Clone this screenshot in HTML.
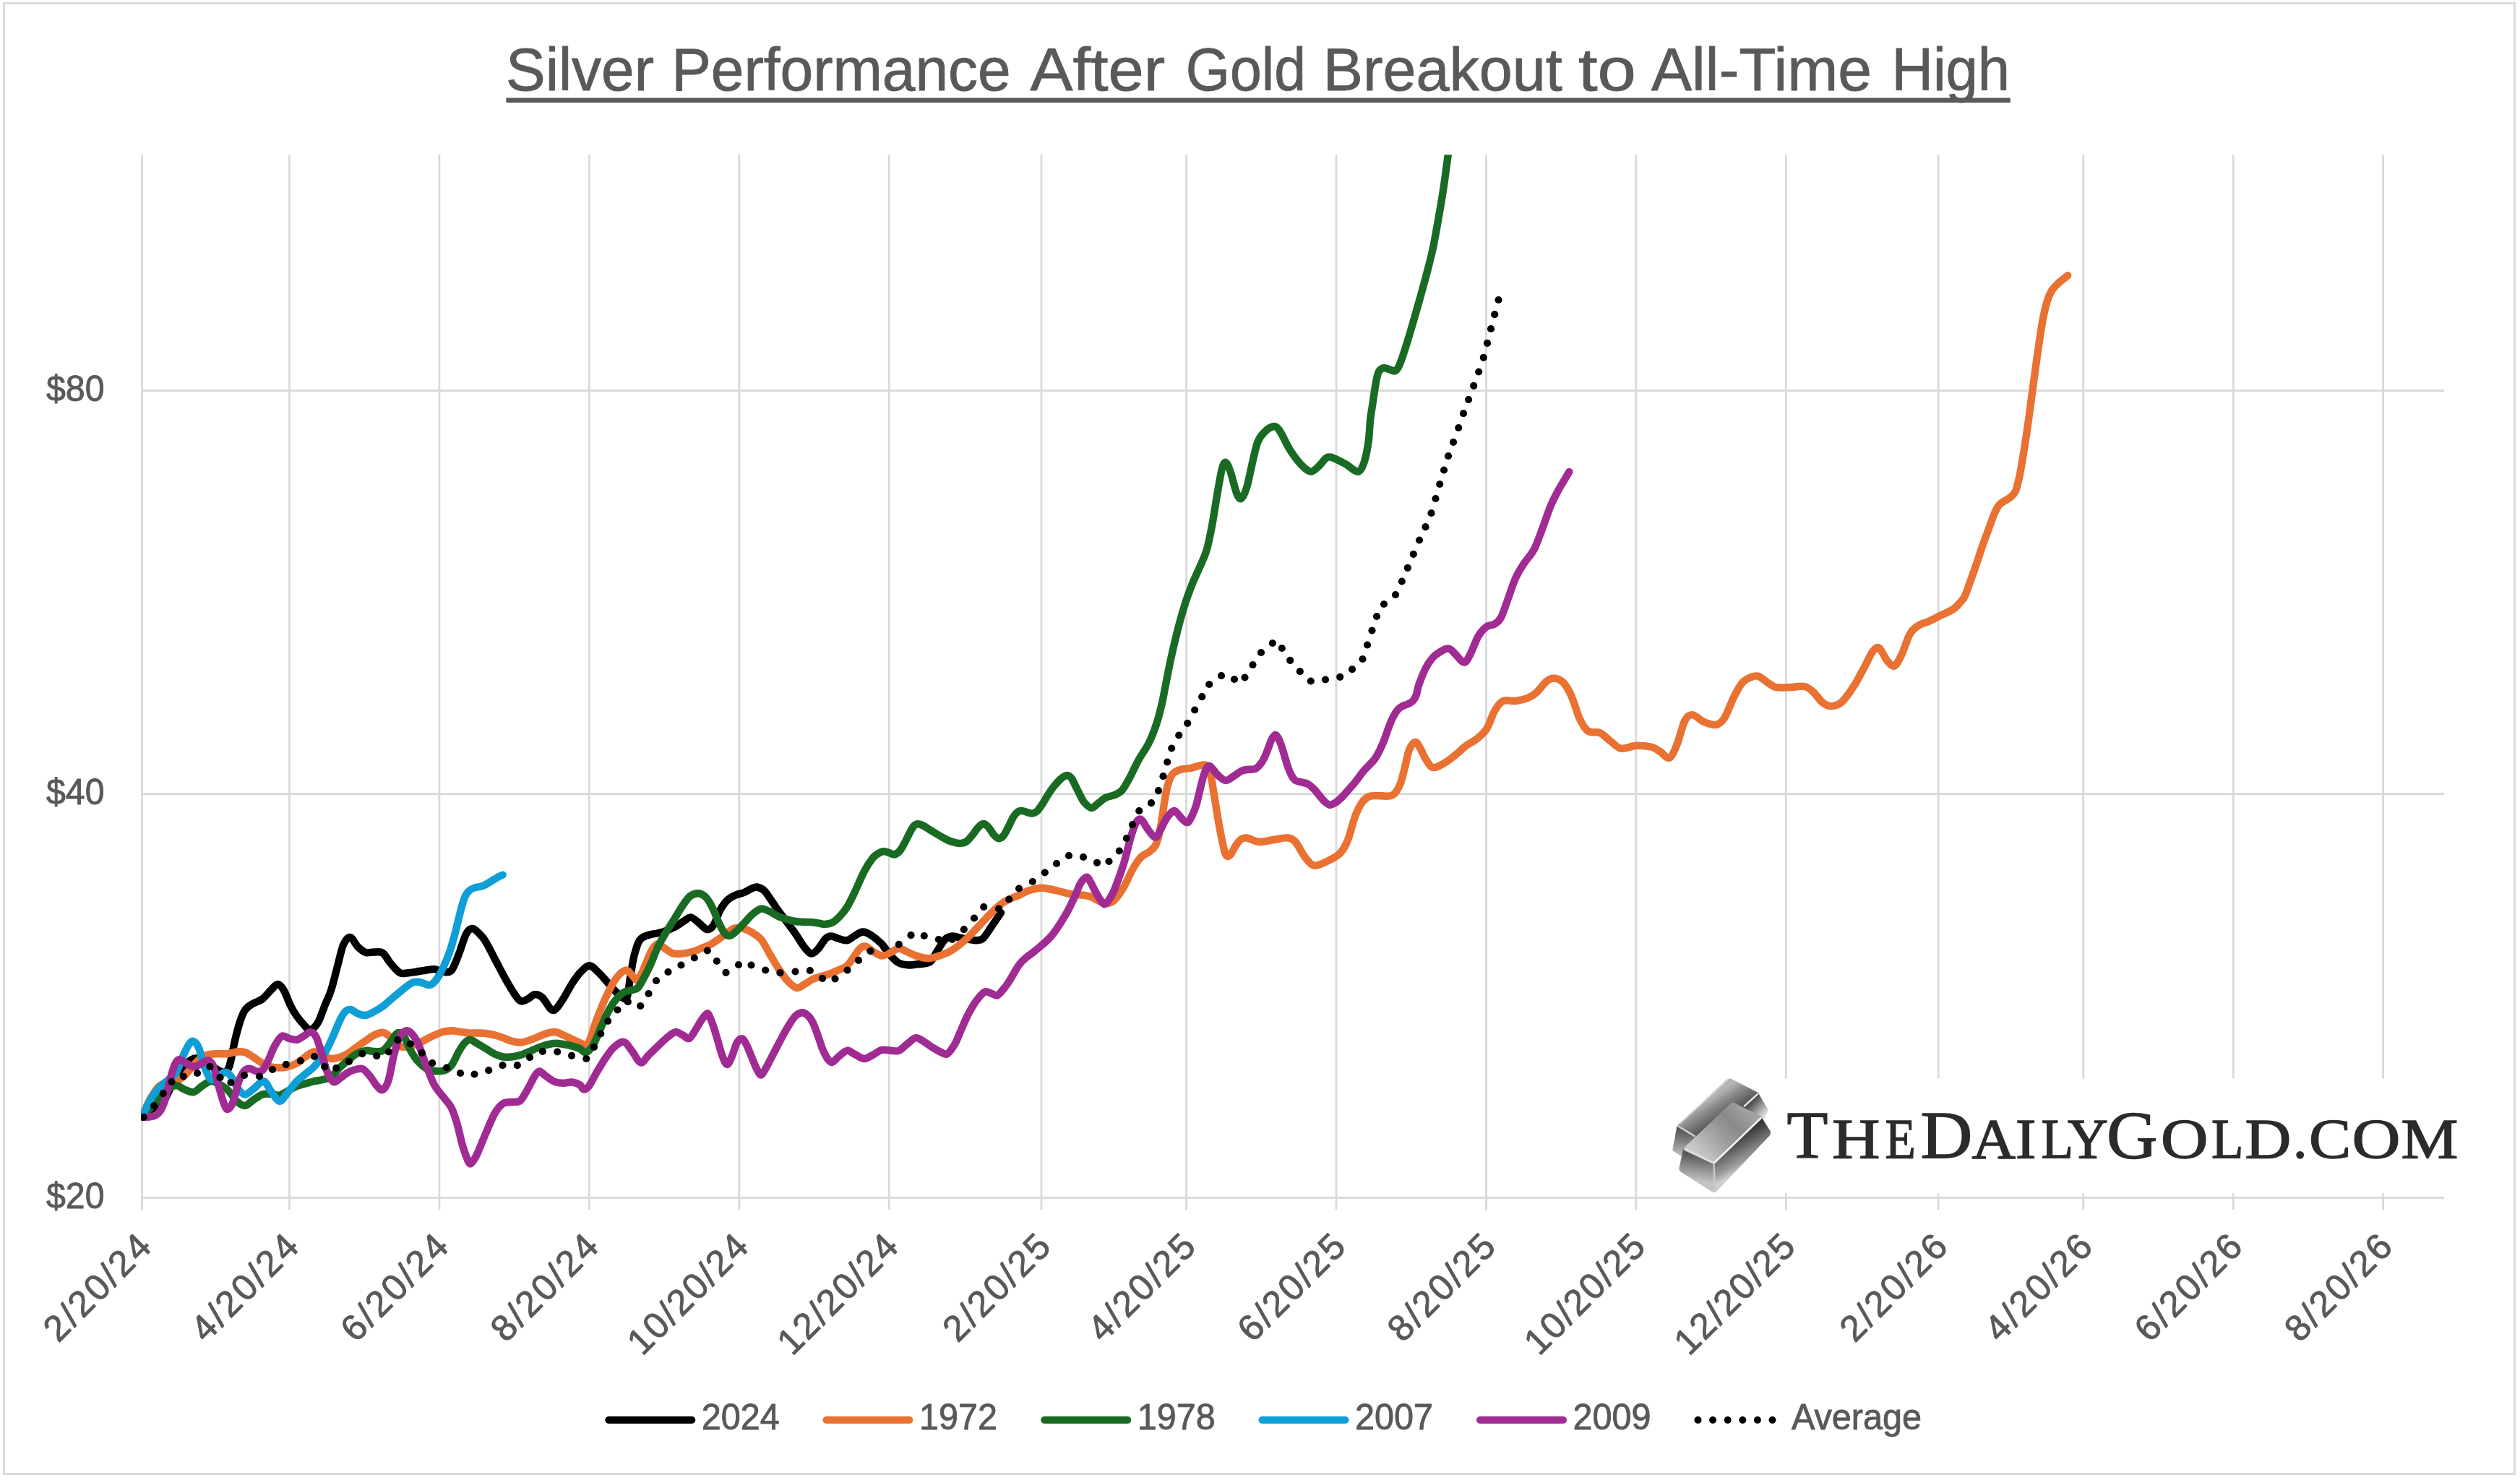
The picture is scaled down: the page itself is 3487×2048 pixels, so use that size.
<!DOCTYPE html>
<html lang="en"><head><meta charset="utf-8"><title>Silver Performance After Gold Breakout to All-Time High</title>
<style>html,body{margin:0;padding:0;background:#fff}svg{display:block}text{font-family:'Liberation Sans', Arial, sans-serif}.lg{font-family:"Liberation Serif","Times New Roman",serif}.t{stroke:#595959;stroke-width:0.9px;stroke-linejoin:round}</style></head><body>
<svg width="3487" height="2048" viewBox="0 0 3487 2048">
<defs>
<clipPath id="plot"><rect x="195.1" y="214.0" width="3260" height="1500"/></clipPath>
</defs>
<rect x="0" y="0" width="3487" height="2048" fill="#fff"/>
<rect x="5.5" y="4.5" width="3474" height="2035" fill="none" stroke="#D9D9D9" stroke-width="2.8"/>
<g stroke="#D9D9D9" stroke-width="2.8" fill="none"><line x1="196.5" y1="214.0" x2="196.5" y2="1674.3"/><line x1="400.5" y1="214.0" x2="400.5" y2="1674.3"/><line x1="607.9" y1="214.0" x2="607.9" y2="1674.3"/><line x1="815.4" y1="214.0" x2="815.4" y2="1674.3"/><line x1="1022.8" y1="214.0" x2="1022.8" y2="1674.3"/><line x1="1230.2" y1="214.0" x2="1230.2" y2="1674.3"/><line x1="1441.0" y1="214.0" x2="1441.0" y2="1674.3"/><line x1="1641.6" y1="214.0" x2="1641.6" y2="1674.3"/><line x1="1849.0" y1="214.0" x2="1849.0" y2="1674.3"/><line x1="2056.5" y1="214.0" x2="2056.5" y2="1674.3"/><line x1="2263.9" y1="214.0" x2="2263.9" y2="1674.3"/><line x1="2471.3" y1="214.0" x2="2471.3" y2="1674.3"/><line x1="2682.1" y1="214.0" x2="2682.1" y2="1674.3"/><line x1="2882.7" y1="214.0" x2="2882.7" y2="1674.3"/><line x1="3090.2" y1="214.0" x2="3090.2" y2="1674.3"/><line x1="3297.6" y1="214.0" x2="3297.6" y2="1674.3"/><line x1="195.1" y1="540.5" x2="3382.0" y2="540.5"/><line x1="195.1" y1="1098.7" x2="3382.0" y2="1098.7"/><line x1="195.1" y1="1657.3" x2="3382.0" y2="1657.3"/></g>
<text class="t" font-size="84" fill="#595959"><tspan x="700.01" y="125.4" textLength="204.99" lengthAdjust="spacingAndGlyphs">Silver</tspan> <tspan x="929.15" y="125.4" textLength="469.48" lengthAdjust="spacingAndGlyphs">Performance</tspan> <tspan x="1425.59" y="125.4" textLength="186.59" lengthAdjust="spacingAndGlyphs">After</tspan> <tspan x="1640.74" y="125.4" textLength="166.14" lengthAdjust="spacingAndGlyphs">Gold</tspan> <tspan x="1830.80" y="125.4" textLength="331.00" lengthAdjust="spacingAndGlyphs">Breakout</tspan> <tspan x="2184.01" y="125.4" textLength="79.93" lengthAdjust="spacingAndGlyphs">to</tspan> <tspan x="2285.00" y="125.4" textLength="304.97" lengthAdjust="spacingAndGlyphs">All-Time</tspan> <tspan x="2617.62" y="125.4" textLength="163.32" lengthAdjust="spacingAndGlyphs">High</tspan></text>
<rect x="700.3" y="135.4" width="2081.5" height="6.6" fill="#595959"/>
<text class="t" x="64" y="555.0" font-size="50.5" fill="#595959" textLength="80.5" lengthAdjust="spacingAndGlyphs">$80</text>
<text class="t" x="64" y="1113.2" font-size="50.5" fill="#595959" textLength="80.5" lengthAdjust="spacingAndGlyphs">$40</text>
<text class="t" x="64" y="1671.8" font-size="50.5" fill="#595959" textLength="80.5" lengthAdjust="spacingAndGlyphs">$20</text>
<text class="t" transform="translate(212.0 1728) rotate(-45)" text-anchor="end" font-size="50.5" fill="#595959" textLength="185.5" lengthAdjust="spacing">2/20/24</text>
<text class="t" transform="translate(416.0 1728) rotate(-45)" text-anchor="end" font-size="50.5" fill="#595959" textLength="185.5" lengthAdjust="spacing">4/20/24</text>
<text class="t" transform="translate(623.4 1728) rotate(-45)" text-anchor="end" font-size="50.5" fill="#595959" textLength="185.5" lengthAdjust="spacing">6/20/24</text>
<text class="t" transform="translate(830.9 1728) rotate(-45)" text-anchor="end" font-size="50.5" fill="#595959" textLength="185.5" lengthAdjust="spacing">8/20/24</text>
<text class="t" transform="translate(1038.3 1728) rotate(-45)" text-anchor="end" font-size="50.5" fill="#595959" textLength="211.5" lengthAdjust="spacing">10/20/24</text>
<text class="t" transform="translate(1245.7 1728) rotate(-45)" text-anchor="end" font-size="50.5" fill="#595959" textLength="211.5" lengthAdjust="spacing">12/20/24</text>
<text class="t" transform="translate(1456.5 1728) rotate(-45)" text-anchor="end" font-size="50.5" fill="#595959" textLength="185.5" lengthAdjust="spacing">2/20/25</text>
<text class="t" transform="translate(1657.1 1728) rotate(-45)" text-anchor="end" font-size="50.5" fill="#595959" textLength="185.5" lengthAdjust="spacing">4/20/25</text>
<text class="t" transform="translate(1864.5 1728) rotate(-45)" text-anchor="end" font-size="50.5" fill="#595959" textLength="185.5" lengthAdjust="spacing">6/20/25</text>
<text class="t" transform="translate(2072.0 1728) rotate(-45)" text-anchor="end" font-size="50.5" fill="#595959" textLength="185.5" lengthAdjust="spacing">8/20/25</text>
<text class="t" transform="translate(2279.4 1728) rotate(-45)" text-anchor="end" font-size="50.5" fill="#595959" textLength="211.5" lengthAdjust="spacing">10/20/25</text>
<text class="t" transform="translate(2486.8 1728) rotate(-45)" text-anchor="end" font-size="50.5" fill="#595959" textLength="211.5" lengthAdjust="spacing">12/20/25</text>
<text class="t" transform="translate(2697.6 1728) rotate(-45)" text-anchor="end" font-size="50.5" fill="#595959" textLength="185.5" lengthAdjust="spacing">2/20/26</text>
<text class="t" transform="translate(2898.2 1728) rotate(-45)" text-anchor="end" font-size="50.5" fill="#595959" textLength="185.5" lengthAdjust="spacing">4/20/26</text>
<text class="t" transform="translate(3105.7 1728) rotate(-45)" text-anchor="end" font-size="50.5" fill="#595959" textLength="185.5" lengthAdjust="spacing">6/20/26</text>
<text class="t" transform="translate(3313.1 1728) rotate(-45)" text-anchor="end" font-size="50.5" fill="#595959" textLength="185.5" lengthAdjust="spacing">8/20/26</text>
<g clip-path="url(#plot)" fill="none" stroke-width="10.4" stroke-linecap="round" stroke-linejoin="round">
<path stroke="#000000" d="M196.5 1545.5C204.4 1542.0 212.3 1544.2 220.2 1535.0C228.2 1525.8 236.1 1501.6 244.0 1490.0C252.0 1478.3 260.0 1467.5 268.0 1465.0C275.9 1462.5 283.8 1471.5 291.8 1475.0C297.8 1477.7 303.9 1483.8 310.0 1483.8C312.5 1483.8 315.0 1482.3 317.5 1475.0C320.0 1467.7 322.5 1450.4 325.0 1440.0C327.5 1429.6 330.0 1420.0 332.5 1412.5C334.8 1405.8 337.0 1400.6 339.2 1397.5C342.8 1392.6 346.4 1391.0 350.0 1388.8C354.3 1386.0 358.7 1385.8 363.0 1382.5C367.0 1379.5 371.0 1373.8 375.0 1370.0C378.2 1367.0 381.3 1362.0 384.5 1362.0C387.2 1362.0 389.8 1365.5 392.5 1370.0C395.8 1375.6 399.2 1385.9 402.5 1392.5C405.2 1398.0 408.0 1402.3 410.8 1406.2C413.8 1410.7 416.9 1414.3 420.0 1417.5C422.9 1420.5 425.8 1425.4 428.8 1425.0C432.5 1424.5 436.2 1421.2 440.0 1415.0C443.3 1409.5 446.7 1398.2 450.0 1390.0C452.8 1383.2 455.5 1378.6 458.2 1370.0C461.3 1360.3 464.4 1346.5 467.5 1335.0C470.0 1325.7 472.5 1313.1 475.0 1307.5C478.2 1300.4 481.3 1296.6 484.5 1297.0C488.0 1297.4 491.5 1306.6 495.0 1310.0C498.7 1313.6 502.3 1316.8 506.0 1318.0C509.8 1319.3 513.7 1317.4 517.5 1317.5C521.6 1317.6 525.7 1316.0 529.8 1318.8C533.2 1321.0 536.6 1328.5 540.0 1332.5C544.5 1337.7 549.0 1343.8 553.5 1346.2C557.3 1348.4 561.2 1346.5 565.0 1346.2C569.1 1345.9 573.2 1345.1 577.2 1344.5C581.5 1343.9 585.8 1343.1 590.0 1342.5C593.7 1342.0 597.3 1340.9 601.0 1341.2C605.7 1341.7 610.3 1344.8 615.0 1345.0C618.3 1345.2 621.7 1346.7 625.0 1342.5C628.3 1338.3 631.7 1328.3 635.0 1320.0C638.3 1311.7 641.7 1298.7 645.0 1292.5C647.9 1287.1 650.8 1284.8 653.8 1285.0C657.5 1285.2 661.2 1290.0 665.0 1293.8C667.5 1296.2 670.0 1299.5 672.5 1303.8C676.7 1310.8 680.8 1319.6 685.0 1327.5C688.8 1334.6 692.5 1342.0 696.2 1348.8C700.8 1357.0 705.4 1365.5 710.0 1372.5C713.3 1377.6 716.7 1383.3 720.0 1385.0C723.3 1386.7 726.7 1384.0 730.0 1382.5C733.3 1381.0 736.7 1376.7 740.0 1376.2C743.3 1375.8 746.7 1377.1 750.0 1380.0C755.0 1384.3 760.0 1397.1 765.0 1398.0C769.2 1398.8 773.3 1390.8 777.5 1385.0C782.2 1378.5 786.8 1368.5 791.5 1361.2C795.2 1355.6 798.8 1350.1 802.5 1346.2C806.8 1341.8 811.0 1336.5 815.2 1336.2C819.3 1336.0 823.4 1341.3 827.5 1345.0C831.3 1348.4 835.2 1353.2 839.0 1357.5C842.7 1361.6 846.3 1366.3 850.0 1370.0C854.2 1374.2 858.3 1379.2 862.5 1381.2C864.3 1382.1 866.2 1384.5 868.0 1378.8C869.5 1374.1 871.0 1358.9 872.5 1350.0C874.2 1340.1 875.8 1329.0 877.5 1322.5C880.0 1312.8 882.5 1304.8 885.0 1301.2C889.2 1295.3 893.3 1295.4 897.5 1293.8C901.8 1292.1 906.2 1292.3 910.5 1291.2C914.5 1290.2 918.5 1289.0 922.5 1287.5C926.4 1286.1 930.3 1284.7 934.2 1282.5C938.7 1280.1 943.1 1276.4 947.5 1273.8C950.4 1272.0 953.3 1269.0 956.2 1269.5C960.0 1270.2 963.8 1274.7 967.5 1277.5C971.2 1280.3 975.0 1285.8 978.8 1286.2C981.7 1286.6 984.6 1284.4 987.5 1280.0C990.4 1275.6 993.3 1265.4 996.2 1260.0C999.4 1254.1 1002.6 1249.4 1005.8 1246.2C1009.7 1242.3 1013.6 1240.6 1017.5 1238.8C1021.5 1236.9 1025.5 1236.6 1029.5 1235.0C1033.0 1233.6 1036.5 1231.0 1040.0 1229.5C1042.5 1228.5 1045.0 1227.1 1047.5 1227.5C1050.8 1228.1 1054.2 1229.4 1057.5 1232.5C1060.8 1235.6 1064.2 1241.5 1067.5 1246.2C1070.7 1250.7 1073.8 1255.6 1077.0 1260.0C1081.3 1266.0 1085.7 1271.6 1090.0 1277.5C1093.7 1282.5 1097.3 1287.2 1101.0 1292.5C1104.8 1298.0 1108.7 1305.2 1112.5 1310.0C1115.8 1314.2 1119.2 1319.1 1122.5 1319.5C1125.8 1319.9 1129.2 1316.0 1132.5 1312.5C1135.8 1309.0 1139.2 1302.0 1142.5 1298.8C1145.0 1296.3 1147.5 1295.5 1150.0 1295.5C1153.3 1295.5 1156.7 1297.9 1160.0 1298.8C1164.1 1299.8 1168.2 1301.9 1172.2 1301.2C1175.7 1300.7 1179.1 1296.9 1182.5 1295.0C1186.2 1293.0 1190.0 1289.7 1193.8 1289.5C1197.5 1289.3 1201.2 1291.4 1205.0 1293.8C1210.0 1296.9 1215.0 1301.0 1220.0 1306.2C1224.2 1310.6 1228.3 1317.9 1232.5 1322.5C1236.2 1326.6 1240.0 1330.5 1243.8 1332.5C1248.3 1334.9 1252.9 1335.1 1257.5 1335.5C1260.8 1335.8 1264.2 1335.1 1267.5 1334.5C1274.2 1333.4 1280.8 1334.8 1287.5 1330.5C1290.8 1328.3 1294.2 1320.1 1297.5 1315.0C1300.8 1309.9 1304.2 1303.2 1307.5 1300.0C1310.8 1296.8 1314.2 1295.9 1317.5 1295.5C1320.8 1295.1 1324.2 1296.9 1327.5 1297.5C1331.3 1298.2 1335.2 1298.9 1339.0 1299.5C1342.7 1300.1 1346.3 1301.4 1350.0 1301.2C1353.3 1301.1 1356.7 1301.5 1360.0 1298.8C1363.3 1296.0 1366.7 1289.8 1370.0 1285.0C1375.0 1277.8 1380.0 1270.3 1385.0 1263.0"/>
<path stroke="#E97132" d="M196.5 1545.5C199.3 1539.0 202.2 1531.8 205.0 1526.0C207.5 1520.9 210.0 1516.8 212.5 1513.0C215.1 1509.1 217.7 1505.0 220.2 1503.0C224.3 1499.8 228.4 1498.8 232.5 1497.5C236.3 1496.3 240.2 1497.0 244.0 1495.5C247.7 1494.1 251.3 1492.1 255.0 1488.8C259.3 1484.8 263.7 1478.3 268.0 1473.8C272.0 1469.5 276.0 1465.0 280.0 1462.5C283.9 1460.0 287.8 1459.5 291.8 1458.8C295.3 1458.1 298.9 1458.4 302.5 1458.2C306.8 1458.1 311.2 1458.5 315.5 1458.0C319.5 1457.6 323.5 1455.8 327.5 1455.5C331.4 1455.2 335.3 1455.0 339.2 1456.2C342.8 1457.4 346.4 1460.2 350.0 1462.5C354.3 1465.2 358.7 1468.9 363.0 1471.2C367.0 1473.5 371.0 1475.2 375.0 1476.2C379.0 1477.3 383.0 1477.5 387.0 1477.5C390.5 1477.5 394.0 1477.2 397.5 1476.2C401.9 1475.1 406.3 1473.7 410.8 1471.2C414.7 1469.1 418.6 1465.1 422.5 1462.5C426.5 1459.8 430.5 1455.9 434.5 1455.5C438.0 1455.1 441.5 1458.6 445.0 1460.0C449.4 1461.8 453.8 1464.5 458.2 1465.0C462.2 1465.5 466.1 1464.2 470.0 1463.0C474.0 1461.7 478.0 1459.9 482.0 1457.5C485.9 1455.2 489.8 1451.6 493.8 1448.8C497.8 1445.8 501.9 1442.8 506.0 1440.0C509.8 1437.4 513.7 1434.3 517.5 1432.5C521.6 1430.6 525.7 1428.3 529.8 1428.8C533.2 1429.1 536.6 1432.0 540.0 1435.0C543.3 1437.9 546.7 1444.0 550.0 1446.2C553.3 1448.5 556.7 1449.0 560.0 1448.8C565.8 1448.4 571.5 1446.6 577.2 1444.5C581.5 1443.0 585.8 1440.1 590.0 1438.0C593.7 1436.1 597.3 1434.1 601.0 1432.5C604.8 1430.8 608.7 1429.0 612.5 1428.0C616.7 1426.9 620.8 1426.2 625.0 1426.2C629.2 1426.2 633.3 1427.4 637.5 1428.0C641.2 1428.5 645.0 1429.2 648.8 1429.5C652.5 1429.8 656.2 1429.4 660.0 1429.5C664.2 1429.6 668.3 1429.5 672.5 1430.0C676.7 1430.5 680.8 1431.4 685.0 1432.5C688.8 1433.5 692.5 1434.9 696.2 1436.2C700.0 1437.6 703.8 1439.5 707.5 1440.5C711.7 1441.6 715.8 1442.7 720.0 1442.5C724.2 1442.3 728.3 1440.8 732.5 1439.5C736.3 1438.3 740.2 1436.5 744.0 1435.0C747.7 1433.5 751.3 1431.6 755.0 1430.5C759.2 1429.2 763.5 1427.7 767.8 1428.0C771.8 1428.3 775.9 1430.8 780.0 1432.5C783.8 1434.1 787.7 1436.2 791.5 1438.0C795.2 1439.7 798.8 1441.4 802.5 1443.0C804.6 1443.9 806.7 1445.8 808.8 1445.5C810.9 1445.2 813.1 1445.7 815.2 1441.2C818.5 1434.7 821.8 1421.1 825.0 1412.5C829.7 1400.2 834.3 1388.7 839.0 1378.8C843.5 1369.1 848.0 1359.7 852.5 1353.8C857.1 1347.7 861.7 1343.3 866.2 1342.5C869.2 1342.0 872.1 1347.3 875.0 1350.0C877.1 1351.9 879.2 1356.7 881.2 1356.2C883.3 1355.8 885.4 1351.5 887.5 1347.5C890.0 1342.7 892.5 1335.6 895.0 1330.0C897.5 1324.4 900.0 1317.7 902.5 1313.8C905.0 1309.8 907.5 1306.4 910.0 1306.2C913.3 1306.0 916.7 1310.4 920.0 1312.5C923.3 1314.6 926.7 1317.5 930.0 1318.8C933.3 1320.0 936.7 1320.2 940.0 1320.0C946.0 1319.6 952.0 1318.5 958.0 1317.0C962.0 1316.0 966.0 1314.1 970.0 1312.5C974.0 1310.9 978.0 1309.6 982.0 1307.5C985.9 1305.4 989.8 1302.7 993.8 1300.0C997.8 1297.3 1001.8 1294.1 1005.8 1291.2C1008.8 1289.1 1011.9 1286.4 1015.0 1285.0C1017.5 1283.9 1020.0 1283.8 1022.5 1283.8C1024.8 1283.8 1027.2 1284.2 1029.5 1285.0C1033.0 1286.2 1036.5 1287.8 1040.0 1290.0C1044.4 1292.8 1048.8 1294.7 1053.2 1300.0C1057.2 1304.7 1061.1 1313.4 1065.0 1320.0C1069.0 1326.7 1073.0 1334.0 1077.0 1340.0C1081.3 1346.5 1085.7 1352.9 1090.0 1357.5C1094.2 1361.9 1098.3 1366.1 1102.5 1367.0C1105.8 1367.7 1109.2 1364.3 1112.5 1362.5C1116.6 1360.3 1120.7 1356.7 1124.8 1355.0C1132.7 1351.7 1140.6 1350.3 1148.5 1347.5C1152.3 1346.1 1156.2 1344.3 1160.0 1342.5C1164.1 1340.6 1168.2 1339.9 1172.2 1336.2C1175.7 1333.2 1179.1 1327.1 1182.5 1322.5C1185.0 1319.2 1187.5 1314.7 1190.0 1312.5C1192.5 1310.3 1195.0 1309.0 1197.5 1309.5C1200.8 1310.2 1204.2 1314.3 1207.5 1316.2C1211.7 1318.7 1215.8 1322.2 1220.0 1322.5C1224.2 1322.8 1228.3 1319.8 1232.5 1318.0C1236.2 1316.4 1240.0 1312.7 1243.8 1312.5C1247.5 1312.3 1251.2 1315.4 1255.0 1317.0C1259.2 1318.8 1263.3 1321.2 1267.5 1322.5C1273.3 1324.3 1279.2 1326.2 1285.0 1326.2C1290.0 1326.2 1295.0 1324.2 1300.0 1322.5C1305.0 1320.8 1310.0 1319.0 1315.0 1316.2C1319.2 1314.0 1323.3 1310.8 1327.5 1307.5C1331.3 1304.5 1335.2 1301.1 1339.0 1297.5C1342.7 1294.0 1346.3 1290.1 1350.0 1286.2C1354.2 1281.8 1358.5 1277.0 1362.8 1272.5C1366.8 1268.2 1370.9 1263.9 1375.0 1260.0C1378.8 1256.4 1382.7 1252.8 1386.5 1250.0C1390.2 1247.4 1393.8 1245.5 1397.5 1243.8C1401.8 1241.7 1406.0 1240.6 1410.2 1238.8C1413.5 1237.3 1416.8 1235.1 1420.0 1233.8C1423.3 1232.4 1426.7 1231.3 1430.0 1230.5C1433.8 1229.6 1437.7 1228.5 1441.5 1228.8C1448.5 1229.2 1455.5 1231.0 1462.5 1232.5C1469.2 1233.9 1475.8 1236.4 1482.5 1237.5C1488.3 1238.5 1494.2 1238.0 1500.0 1238.8C1503.3 1239.2 1506.7 1239.9 1510.0 1241.2C1515.0 1243.2 1520.0 1246.9 1525.0 1248.8C1527.9 1249.8 1530.8 1250.6 1533.8 1250.0C1536.7 1249.4 1539.6 1248.1 1542.5 1245.0C1546.7 1240.6 1550.8 1234.6 1555.0 1227.5C1559.2 1220.4 1563.3 1209.7 1567.5 1202.5C1571.2 1196.0 1575.0 1190.2 1578.8 1186.2C1582.5 1182.3 1586.2 1181.8 1590.0 1178.8C1592.9 1176.4 1595.8 1175.0 1598.8 1170.0C1600.4 1167.1 1602.1 1161.7 1603.8 1155.0C1605.0 1150.0 1606.2 1142.5 1607.5 1135.0C1608.8 1127.5 1610.0 1117.5 1611.2 1110.0C1612.5 1102.5 1613.8 1095.0 1615.0 1090.0C1616.7 1083.3 1618.3 1078.5 1620.0 1075.0C1621.7 1071.5 1623.3 1069.9 1625.0 1068.8C1628.3 1066.4 1631.7 1065.4 1635.0 1064.5C1639.2 1063.4 1643.3 1063.9 1647.5 1063.0C1652.5 1062.0 1657.5 1059.4 1662.5 1058.8C1665.4 1058.4 1668.3 1057.4 1671.2 1060.0C1672.5 1061.1 1673.8 1064.3 1675.0 1070.0C1676.7 1077.6 1678.3 1090.0 1680.0 1100.0C1682.5 1115.0 1685.0 1131.7 1687.5 1145.0C1690.0 1158.3 1692.5 1171.5 1695.0 1180.0C1696.4 1184.8 1697.8 1184.8 1699.2 1185.0C1700.8 1185.2 1702.2 1183.3 1703.8 1181.2C1705.8 1178.3 1707.9 1173.0 1710.0 1170.0C1712.5 1166.4 1715.0 1163.0 1717.5 1161.2C1720.0 1159.5 1722.5 1159.1 1725.0 1159.5C1730.8 1160.4 1736.7 1164.6 1742.5 1165.0C1749.2 1165.4 1755.8 1162.9 1762.5 1162.0C1769.2 1161.1 1775.8 1158.8 1782.5 1159.5C1785.8 1159.8 1789.2 1161.2 1792.5 1165.0C1796.7 1169.7 1800.8 1179.2 1805.0 1185.0C1808.3 1189.6 1811.7 1193.9 1815.0 1196.2C1817.5 1198.0 1820.0 1198.1 1822.5 1197.5C1828.3 1196.0 1834.2 1193.1 1840.0 1190.0C1845.0 1187.3 1850.0 1185.5 1855.0 1180.0C1858.3 1176.3 1861.7 1170.8 1865.0 1162.5C1868.3 1154.2 1871.7 1138.8 1875.0 1130.0C1878.3 1121.2 1881.7 1114.7 1885.0 1110.0C1888.3 1105.3 1891.7 1103.2 1895.0 1102.0C1900.0 1100.2 1905.0 1101.6 1910.0 1101.2C1915.8 1100.9 1921.7 1103.4 1927.5 1100.0C1930.8 1098.0 1934.2 1092.7 1937.5 1085.0C1939.6 1080.2 1941.7 1070.4 1943.8 1062.5C1945.8 1054.6 1947.9 1042.4 1950.0 1037.5C1952.9 1030.6 1955.8 1027.5 1958.8 1027.0C1960.8 1026.7 1962.9 1031.5 1965.0 1035.0C1967.5 1039.2 1970.0 1046.1 1972.5 1050.0C1975.8 1055.1 1979.2 1061.4 1982.5 1062.0C1988.3 1063.1 1994.2 1058.3 2000.0 1055.0C2005.0 1052.2 2010.0 1047.8 2015.0 1043.8C2019.5 1040.1 2024.0 1035.4 2028.6 1032.0C2033.3 1028.4 2038.1 1026.8 2042.9 1022.9C2047.6 1019.0 2052.4 1016.0 2057.1 1008.6C2061.0 1002.6 2064.8 989.3 2068.6 982.9C2072.4 976.4 2076.2 971.7 2080.0 970.0C2085.7 967.4 2091.4 970.7 2097.1 970.0C2102.9 969.3 2108.6 968.0 2114.3 965.7C2118.1 964.2 2121.9 962.0 2125.7 958.6C2130.5 954.3 2135.2 946.8 2140.0 942.9C2143.3 940.1 2146.7 938.4 2150.0 938.6C2154.3 938.8 2158.6 940.0 2162.9 944.3C2166.7 948.1 2170.5 954.5 2174.3 962.9C2178.1 971.2 2181.9 986.2 2185.7 994.3C2189.5 1002.4 2193.3 1008.8 2197.1 1011.4C2202.9 1015.4 2208.6 1011.7 2214.3 1014.3C2219.0 1016.5 2223.8 1022.1 2228.6 1025.7C2233.3 1029.3 2238.1 1034.8 2242.9 1035.7C2249.5 1036.9 2256.2 1032.3 2262.9 1032.0C2270.5 1031.6 2278.1 1031.9 2285.7 1033.7C2289.5 1034.6 2293.3 1037.7 2297.1 1040.0C2301.4 1042.6 2305.7 1050.2 2310.0 1048.6C2313.3 1047.3 2316.7 1039.4 2320.0 1031.4C2323.8 1022.3 2327.6 1004.7 2331.4 997.1C2334.8 990.6 2338.1 989.0 2341.4 989.1C2346.7 989.4 2351.9 996.4 2357.1 998.6C2362.9 1001.0 2368.6 1003.7 2374.3 1002.9C2378.1 1002.3 2381.9 1000.2 2385.7 994.3C2390.5 986.9 2395.2 972.1 2400.0 962.9C2403.8 955.4 2407.6 948.6 2411.4 944.3C2415.2 940.0 2419.0 938.7 2422.9 937.1C2426.2 935.8 2429.5 934.7 2432.9 935.7C2437.1 937.1 2441.4 941.6 2445.7 944.3C2449.5 946.7 2453.3 950.1 2457.1 950.9C2464.8 952.3 2472.4 951.0 2480.0 950.9C2485.7 950.7 2491.4 948.7 2497.1 950.0C2501.0 950.8 2504.8 953.8 2508.6 957.1C2513.3 961.4 2518.1 969.2 2522.9 972.9C2526.7 975.8 2530.5 977.4 2534.3 977.1C2539.0 976.9 2543.8 975.8 2548.6 971.4C2554.3 966.2 2560.0 957.4 2565.7 948.6C2570.5 941.2 2575.2 931.6 2580.0 922.9C2583.8 915.9 2587.6 906.4 2591.4 901.4C2594.3 897.7 2597.1 894.7 2600.0 896.6C2603.8 899.0 2607.6 909.9 2611.4 914.3C2614.8 918.2 2618.1 922.9 2621.4 921.4C2624.8 920.0 2628.1 912.6 2631.4 905.7C2635.2 897.8 2639.0 883.8 2642.9 877.1C2646.7 870.5 2650.5 868.3 2654.3 865.7C2659.0 862.5 2663.8 862.2 2668.6 860.0C2674.3 857.4 2680.0 854.3 2685.7 851.4C2691.4 848.6 2697.1 846.9 2702.9 842.9C2706.7 840.2 2710.5 835.7 2714.3 831.4C2715.8 829.8 2717.3 828.3 2718.8 825.0C2721.2 819.5 2723.8 811.9 2726.2 805.0C2729.2 796.9 2732.1 788.5 2735.0 780.0C2737.9 771.5 2740.8 762.1 2743.8 753.8C2746.7 745.4 2749.6 737.9 2752.5 730.0C2755.0 723.3 2757.5 715.7 2760.0 710.0C2762.1 705.3 2764.2 701.2 2766.2 698.8C2769.2 695.3 2772.1 694.5 2775.0 692.5C2777.5 690.8 2780.0 689.8 2782.5 687.5C2784.6 685.6 2786.7 684.2 2788.8 680.0C2790.0 677.5 2791.2 672.5 2792.5 667.5C2793.8 662.5 2795.0 657.2 2796.2 650.0C2799.2 633.1 2802.1 614.7 2805.0 595.0C2807.5 578.1 2810.0 558.3 2812.5 540.0C2815.0 521.7 2817.5 502.3 2820.0 485.0C2822.1 470.6 2824.2 456.2 2826.2 445.0C2828.3 433.8 2830.4 424.6 2832.5 417.5C2834.6 410.4 2836.7 406.0 2838.8 402.5C2841.7 397.6 2844.6 395.4 2847.5 392.5C2850.0 390.0 2852.5 388.3 2855.0 386.2C2857.1 384.5 2859.2 382.9 2861.2 381.2"/>
<path stroke="#196B24" d="M196.5 1545.5C200.6 1541.2 204.7 1536.7 208.8 1532.5C212.6 1528.6 216.4 1525.3 220.2 1521.2C224.3 1517.0 228.4 1510.8 232.5 1507.5C236.3 1504.4 240.2 1502.0 244.0 1502.0C247.7 1502.0 251.3 1506.1 255.0 1507.5C259.3 1509.2 263.7 1512.1 268.0 1511.2C272.0 1510.5 276.0 1505.0 280.0 1502.5C283.9 1500.0 287.8 1496.7 291.8 1496.2C295.3 1495.9 298.9 1498.1 302.5 1500.0C306.8 1502.3 311.2 1504.6 315.5 1508.8C319.5 1512.5 323.5 1520.2 327.5 1523.8C331.4 1527.3 335.3 1530.2 339.2 1530.0C342.8 1529.8 346.4 1524.8 350.0 1522.5C354.3 1519.7 358.7 1516.0 363.0 1514.5C367.0 1513.1 371.0 1513.6 375.0 1513.8C379.0 1513.9 383.0 1516.2 387.0 1515.5C390.5 1514.9 394.0 1511.8 397.5 1510.0C401.9 1507.7 406.3 1504.9 410.8 1503.0C414.7 1501.4 418.6 1500.6 422.5 1499.5C426.5 1498.4 430.5 1497.2 434.5 1496.2C438.8 1495.3 443.2 1494.9 447.5 1493.8C451.1 1492.8 454.7 1492.6 458.2 1490.0C462.2 1487.2 466.1 1481.3 470.0 1477.5C474.0 1473.6 478.0 1470.3 482.0 1467.0C485.9 1463.8 489.8 1460.2 493.8 1458.0C497.8 1455.7 501.9 1454.3 506.0 1453.8C509.8 1453.3 513.7 1455.0 517.5 1455.0C521.6 1455.0 525.7 1456.0 529.8 1453.8C533.2 1451.9 536.6 1446.6 540.0 1442.5C543.3 1438.5 546.7 1431.1 550.0 1429.5C552.9 1428.1 555.8 1429.9 558.8 1433.8C561.7 1437.6 564.6 1447.2 567.5 1452.5C570.8 1458.4 574.0 1463.7 577.2 1467.5C581.5 1472.5 585.8 1476.2 590.0 1478.8C593.7 1481.0 597.3 1481.6 601.0 1482.0C605.7 1482.5 610.3 1482.9 615.0 1481.2C618.3 1480.1 621.7 1478.1 625.0 1473.8C628.3 1469.4 631.7 1460.7 635.0 1455.0C637.5 1450.7 640.0 1446.5 642.5 1443.8C645.0 1441.0 647.5 1438.8 650.0 1438.8C653.3 1438.8 656.7 1441.9 660.0 1443.8C664.2 1446.1 668.3 1448.8 672.5 1451.2C676.7 1453.8 680.8 1456.8 685.0 1458.8C688.8 1460.5 692.5 1461.9 696.2 1462.5C700.0 1463.1 703.8 1462.9 707.5 1462.5C711.7 1462.1 715.8 1461.2 720.0 1460.0C724.2 1458.8 728.3 1456.7 732.5 1455.0C736.3 1453.4 740.2 1451.5 744.0 1450.0C747.7 1448.6 751.3 1447.2 755.0 1446.2C759.2 1445.1 763.5 1444.0 767.8 1443.8C771.8 1443.5 775.9 1444.4 780.0 1445.0C783.8 1445.6 787.7 1446.4 791.5 1447.5C795.2 1448.5 798.8 1449.5 802.5 1451.2C805.0 1452.4 807.5 1456.8 810.0 1456.2C813.3 1455.5 816.7 1452.9 820.0 1447.5C824.2 1440.8 828.3 1429.3 832.5 1420.0C834.7 1415.2 836.8 1409.2 839.0 1405.0C842.7 1397.9 846.3 1391.1 850.0 1386.2C854.3 1380.5 858.7 1376.1 863.0 1373.2C867.0 1370.7 871.0 1371.3 875.0 1370.0C877.5 1369.2 880.0 1369.5 882.5 1367.0C885.0 1364.5 887.5 1359.6 890.0 1355.0C893.3 1348.9 896.7 1342.3 900.0 1335.0C903.5 1327.3 907.0 1317.2 910.5 1310.0C914.5 1301.8 918.5 1295.5 922.5 1288.8C926.4 1282.2 930.3 1276.3 934.2 1270.0C937.8 1264.2 941.4 1257.7 945.0 1252.5C948.3 1247.7 951.7 1242.5 955.0 1240.0C958.8 1237.1 962.5 1236.2 966.2 1236.2C969.2 1236.2 972.1 1237.7 975.0 1240.0C977.3 1241.9 979.7 1244.9 982.0 1248.8C984.2 1252.4 986.5 1257.5 988.8 1262.5C990.8 1267.1 992.9 1273.1 995.0 1277.5C997.5 1282.7 1000.0 1288.3 1002.5 1291.2C1005.0 1294.2 1007.5 1295.5 1010.0 1295.0C1013.3 1294.3 1016.7 1290.5 1020.0 1287.5C1023.2 1284.7 1026.3 1280.9 1029.5 1277.5C1033.0 1273.8 1036.5 1269.5 1040.0 1266.2C1043.3 1263.2 1046.7 1260.7 1050.0 1258.8C1051.7 1257.8 1053.3 1257.2 1055.0 1257.5C1058.3 1258.1 1061.7 1259.7 1065.0 1261.2C1069.0 1263.2 1073.0 1266.2 1077.0 1268.0C1081.3 1270.0 1085.7 1271.2 1090.0 1272.5C1093.7 1273.6 1097.3 1274.5 1101.0 1275.0C1104.8 1275.6 1108.7 1275.5 1112.5 1275.8C1116.6 1276.0 1120.7 1275.8 1124.8 1276.2C1128.2 1276.6 1131.6 1277.5 1135.0 1278.0C1137.5 1278.4 1140.0 1279.0 1142.5 1278.8C1145.8 1278.4 1149.2 1278.1 1152.5 1276.2C1155.8 1274.4 1159.2 1271.1 1162.5 1267.5C1165.8 1264.0 1169.0 1260.3 1172.2 1255.0C1175.7 1249.4 1179.1 1242.1 1182.5 1235.0C1187.0 1225.6 1191.5 1214.0 1196.0 1205.5C1199.8 1198.2 1203.7 1192.4 1207.5 1187.5C1210.0 1184.3 1212.5 1182.8 1215.0 1181.2C1217.5 1179.7 1220.0 1178.3 1222.5 1178.1C1225.0 1177.9 1227.5 1179.3 1230.0 1180.0C1232.5 1180.7 1235.0 1182.9 1237.5 1182.5C1240.0 1182.1 1242.5 1180.4 1245.0 1177.5C1247.5 1174.6 1250.0 1169.6 1252.5 1165.0C1255.0 1160.4 1257.5 1154.5 1260.0 1150.0C1261.7 1147.0 1263.3 1144.1 1265.0 1142.5C1266.7 1140.9 1268.3 1140.2 1270.0 1140.2C1272.5 1140.2 1275.0 1141.3 1277.5 1142.5C1280.8 1144.1 1284.2 1146.7 1287.5 1148.8C1291.7 1151.3 1295.8 1153.9 1300.0 1156.2C1304.2 1158.6 1308.3 1161.3 1312.5 1163.1C1315.8 1164.6 1319.2 1165.5 1322.5 1166.2C1325.0 1166.8 1327.5 1167.2 1330.0 1166.9C1332.5 1166.6 1335.0 1166.1 1337.5 1164.4C1340.0 1162.6 1342.5 1159.3 1345.0 1156.2C1347.5 1153.2 1350.0 1149.2 1352.5 1146.2C1354.2 1144.2 1355.8 1142.4 1357.5 1141.2C1359.0 1140.3 1360.4 1139.5 1361.9 1140.0C1363.8 1140.6 1365.6 1142.2 1367.5 1144.4C1370.0 1147.2 1372.5 1152.0 1375.0 1155.0C1376.7 1157.0 1378.3 1158.4 1380.0 1159.4C1381.2 1160.1 1382.5 1160.4 1383.8 1160.0C1385.4 1159.4 1387.1 1158.5 1388.8 1156.2C1390.8 1153.5 1392.9 1149.0 1395.0 1145.0C1397.5 1140.2 1400.0 1134.0 1402.5 1130.0C1404.6 1126.7 1406.7 1124.6 1408.8 1123.1C1410.4 1121.9 1412.1 1121.8 1413.8 1121.9C1416.2 1122.0 1418.8 1123.3 1421.2 1124.0C1423.5 1124.6 1425.8 1125.9 1428.1 1125.6C1430.4 1125.4 1432.7 1124.6 1435.0 1122.5C1437.5 1120.2 1440.0 1116.2 1442.5 1112.5C1445.0 1108.8 1447.5 1103.8 1450.0 1100.0C1452.9 1095.5 1455.8 1091.1 1458.8 1087.5C1461.7 1083.9 1464.6 1080.8 1467.5 1078.1C1469.6 1076.2 1471.7 1074.7 1473.8 1073.8C1475.2 1073.1 1476.7 1072.7 1478.1 1073.1C1479.6 1073.6 1481.0 1074.4 1482.5 1076.5C1484.6 1079.6 1486.7 1084.6 1488.8 1088.8C1490.4 1092.0 1492.1 1095.6 1493.8 1098.8C1495.8 1102.7 1497.9 1107.5 1500.0 1110.0C1503.3 1113.9 1506.7 1117.8 1510.0 1118.0C1513.3 1118.2 1516.7 1113.6 1520.0 1111.2C1523.3 1108.9 1526.7 1105.4 1530.0 1103.8C1534.2 1101.7 1538.3 1101.9 1542.5 1100.0C1545.8 1098.5 1549.2 1097.5 1552.5 1093.8C1555.8 1090.0 1559.2 1083.6 1562.5 1077.5C1566.7 1069.9 1570.8 1060.1 1575.0 1052.5C1580.0 1043.4 1585.0 1037.5 1590.0 1027.5C1593.3 1020.8 1596.7 1012.5 1600.0 1002.5C1602.5 995.0 1605.0 985.5 1607.5 975.0C1609.2 968.0 1610.8 958.3 1612.5 950.0C1615.0 937.5 1617.5 923.9 1620.0 912.5C1623.3 897.3 1626.7 882.9 1630.0 870.0C1633.3 857.1 1636.7 845.4 1640.0 835.0C1643.3 824.6 1646.7 815.8 1650.0 807.5C1653.3 799.2 1656.7 792.9 1660.0 785.0C1663.3 777.1 1666.7 771.4 1670.0 760.0C1672.5 751.4 1675.0 738.3 1677.5 725.0C1680.0 711.7 1682.5 694.1 1685.0 680.0C1687.1 668.3 1689.2 654.9 1691.2 647.5C1692.9 641.6 1694.6 639.3 1696.2 640.0C1698.3 640.9 1700.4 646.6 1702.5 652.5C1705.4 660.8 1708.3 675.2 1711.2 682.5C1713.3 687.7 1715.4 691.1 1717.5 690.0C1720.0 688.6 1722.5 682.9 1725.0 675.0C1727.5 667.1 1730.0 652.9 1732.5 642.5C1735.0 632.1 1737.5 618.9 1740.0 612.5C1743.3 603.9 1746.7 600.8 1750.0 597.5C1754.2 593.3 1758.3 590.5 1762.5 590.0C1765.0 589.7 1767.5 591.4 1770.0 595.0C1775.0 602.2 1780.0 614.6 1785.0 622.5C1790.0 630.4 1795.0 637.3 1800.0 642.5C1804.6 647.3 1809.2 652.0 1813.8 652.5C1817.5 652.9 1821.2 648.3 1825.0 645.0C1828.3 642.1 1831.7 636.5 1835.0 633.8C1836.7 632.4 1838.3 632.5 1840.0 632.5C1841.7 632.5 1843.3 633.0 1845.0 633.8C1850.8 636.3 1856.7 639.4 1862.5 642.5C1868.3 645.6 1874.2 653.1 1880.0 652.5C1882.5 652.2 1885.0 647.7 1887.5 640.0C1889.6 633.6 1891.7 624.3 1893.8 610.0C1894.6 604.3 1895.4 587.3 1896.2 580.0C1897.5 569.0 1898.8 563.3 1900.0 555.0C1901.2 546.7 1902.5 536.7 1903.8 530.0C1905.0 523.3 1906.2 517.6 1907.5 515.0C1909.6 510.7 1911.7 509.8 1913.8 509.2C1916.7 508.5 1919.6 510.6 1922.5 511.2C1925.4 511.9 1928.3 514.7 1931.2 513.0C1933.3 511.8 1935.4 507.7 1937.5 502.5C1940.8 494.2 1944.2 483.2 1947.5 472.5C1951.7 459.1 1955.8 444.6 1960.0 430.0C1964.2 415.4 1968.3 400.7 1972.5 385.0C1975.8 372.4 1979.2 360.2 1982.5 345.0C1985.0 333.6 1987.5 319.2 1990.0 305.0C1992.5 290.8 1995.0 276.6 1997.5 260.0C1999.6 246.2 2001.7 229.2 2003.8 213.8C2004.6 207.6 2005.4 201.2 2006.2 195.0"/>
<path stroke="#0F9ED5" d="M196.5 1545.5C200.6 1537.2 204.7 1527.4 208.8 1520.5C212.6 1514.0 216.4 1509.7 220.2 1505.5C224.3 1501.0 228.4 1498.2 232.5 1494.5C236.3 1491.0 240.2 1490.1 244.0 1483.8C247.7 1477.7 251.3 1465.4 255.0 1457.5C257.5 1452.1 260.0 1446.9 262.5 1443.8C264.3 1441.5 266.2 1440.3 268.0 1441.2C270.3 1442.4 272.7 1444.6 275.0 1450.0C277.5 1455.8 280.0 1468.5 282.5 1475.0C285.6 1483.1 288.7 1491.6 291.8 1493.8C295.3 1496.2 298.9 1490.5 302.5 1488.8C305.8 1487.1 309.2 1483.5 312.5 1483.8C315.0 1483.9 317.5 1486.6 320.0 1490.0C323.3 1494.5 326.7 1503.3 330.0 1507.5C333.1 1511.4 336.2 1514.5 339.2 1514.5C342.8 1514.5 346.4 1510.0 350.0 1507.5C355.0 1504.0 360.0 1495.8 365.0 1496.2C368.3 1496.6 371.7 1505.8 375.0 1510.0C379.0 1515.0 383.0 1523.3 387.0 1523.8C390.5 1524.1 394.0 1516.6 397.5 1512.5C401.9 1507.4 406.3 1500.9 410.8 1496.2C414.7 1492.1 418.6 1489.5 422.5 1486.2C426.5 1482.9 430.5 1480.5 434.5 1476.2C438.8 1471.7 443.2 1466.6 447.5 1460.0C451.1 1454.5 454.7 1447.6 458.2 1440.0C462.2 1431.7 466.1 1420.6 470.0 1412.5C472.5 1407.3 475.0 1402.6 477.5 1400.0C480.0 1397.4 482.5 1396.6 485.0 1397.0C488.3 1397.5 491.7 1401.2 495.0 1402.5C498.7 1403.9 502.3 1405.4 506.0 1405.0C509.8 1404.6 513.7 1402.0 517.5 1400.0C521.6 1397.9 525.7 1395.4 529.8 1392.5C533.2 1390.0 536.6 1386.6 540.0 1383.8C544.5 1380.0 549.0 1376.1 553.5 1372.5C559.0 1368.1 564.5 1363.0 570.0 1360.0C572.9 1358.4 575.8 1358.5 578.8 1358.8C581.7 1359.0 584.6 1360.4 587.5 1361.2C589.6 1361.9 591.7 1363.3 593.8 1363.1C595.8 1362.9 597.9 1362.0 600.0 1360.0C602.5 1357.6 605.0 1354.2 607.5 1350.0C610.0 1345.8 612.5 1340.6 615.0 1335.0C617.5 1329.4 620.0 1323.5 622.5 1316.2C624.6 1310.2 626.7 1302.6 628.8 1295.0C630.4 1288.9 632.1 1281.7 633.8 1275.0C635.4 1268.3 637.1 1260.8 638.8 1255.0C640.4 1249.2 642.1 1243.4 643.8 1240.0C645.8 1235.7 647.9 1233.7 650.0 1231.9C652.5 1229.7 655.0 1228.9 657.5 1228.1C660.8 1227.1 664.2 1227.5 667.5 1226.2C671.2 1224.8 675.0 1222.2 678.8 1220.0C682.1 1218.0 685.4 1215.6 688.8 1213.8C691.0 1212.5 693.3 1211.7 695.6 1210.6"/>
<path stroke="#A02B93" d="M196.5 1546.0C199.8 1545.8 203.2 1546.0 206.5 1545.5C209.5 1545.1 212.5 1544.9 215.5 1543.2C217.6 1542.1 219.7 1540.2 221.8 1537.2C223.3 1535.0 224.9 1531.6 226.5 1527.5C227.9 1523.8 229.3 1519.2 230.8 1514.0C231.8 1510.0 232.9 1504.5 234.0 1500.0C235.0 1495.8 236.0 1491.5 237.0 1488.0C238.6 1482.5 240.2 1476.5 241.8 1473.2C243.7 1469.3 245.6 1466.5 247.5 1466.2C250.8 1465.8 254.2 1469.6 257.5 1471.2C261.0 1473.0 264.5 1476.0 268.0 1476.2C271.2 1476.4 274.3 1473.9 277.5 1472.5C280.8 1471.0 284.2 1467.0 287.5 1467.5C290.0 1467.9 292.5 1469.2 295.0 1475.0C297.5 1480.8 300.0 1493.8 302.5 1502.5C305.0 1511.2 307.5 1521.0 310.0 1527.5C311.7 1531.8 313.3 1535.3 315.0 1535.0C317.5 1534.5 320.0 1531.2 322.5 1525.0C325.0 1518.8 327.5 1504.6 330.0 1497.5C332.5 1490.4 335.0 1485.6 337.5 1482.5C340.0 1479.4 342.5 1478.8 345.0 1478.8C348.3 1478.8 351.7 1482.0 355.0 1482.5C357.7 1482.9 360.3 1483.5 363.0 1481.2C365.3 1479.3 367.7 1474.6 370.0 1470.0C373.3 1463.4 376.7 1453.5 380.0 1447.5C383.3 1441.5 386.7 1435.5 390.0 1433.8C393.3 1432.0 396.7 1436.2 400.0 1437.0C403.6 1437.9 407.2 1439.3 410.8 1438.8C413.8 1438.2 416.9 1435.4 420.0 1433.8C423.3 1431.9 426.7 1428.0 430.0 1428.2C432.5 1428.4 435.0 1430.1 437.5 1435.0C440.0 1439.9 442.5 1449.6 445.0 1457.5C447.5 1465.4 450.0 1476.4 452.5 1482.5C455.4 1489.6 458.3 1495.3 461.2 1497.0C464.2 1498.7 467.1 1494.4 470.0 1492.5C474.0 1489.9 478.0 1485.9 482.0 1483.8C485.9 1481.6 489.8 1480.3 493.8 1479.5C496.7 1478.9 499.6 1477.9 502.5 1479.5C505.8 1481.4 509.2 1486.0 512.5 1490.0C515.8 1494.0 519.2 1500.3 522.5 1503.8C524.9 1506.3 527.3 1509.4 529.8 1508.0C532.3 1506.5 534.9 1503.1 537.5 1495.0C540.0 1487.1 542.5 1469.8 545.0 1460.0C547.5 1450.2 550.0 1441.1 552.5 1436.2C555.8 1429.8 559.2 1426.7 562.5 1426.2C565.8 1425.8 569.2 1429.7 572.5 1433.8C575.0 1436.8 577.5 1441.6 580.0 1447.5C583.3 1455.4 586.7 1466.5 590.0 1475.0C593.7 1484.4 597.3 1494.7 601.0 1501.2C605.7 1509.7 610.3 1513.7 615.0 1520.0C618.3 1524.5 621.7 1527.1 625.0 1533.8C627.5 1538.8 630.0 1546.5 632.5 1555.0C635.0 1563.5 637.5 1576.5 640.0 1585.0C642.5 1593.5 645.0 1600.3 647.5 1606.2C648.6 1608.8 649.7 1610.5 650.8 1610.5C652.2 1610.5 653.6 1608.2 655.0 1606.2C656.7 1603.9 658.3 1601.2 660.0 1597.5C664.2 1588.3 668.3 1577.1 672.5 1567.5C676.7 1557.9 680.8 1547.1 685.0 1540.0C688.8 1533.6 692.5 1529.5 696.2 1527.0C700.0 1524.5 703.8 1525.6 707.5 1525.0C711.7 1524.3 715.8 1526.2 720.0 1523.0C723.3 1520.4 726.7 1513.2 730.0 1507.5C733.3 1501.8 736.7 1493.9 740.0 1488.8C742.1 1485.5 744.2 1482.5 746.2 1482.5C749.2 1482.5 752.1 1486.8 755.0 1488.8C759.2 1491.6 763.5 1495.3 767.8 1497.0C771.8 1498.6 775.9 1498.7 780.0 1498.8C783.8 1498.8 787.7 1497.1 791.5 1497.5C795.2 1497.9 798.8 1499.0 802.5 1501.2C804.2 1502.3 805.8 1507.3 807.5 1507.5C810.1 1507.8 812.7 1505.8 815.2 1502.5C818.5 1498.3 821.8 1490.5 825.0 1485.0C829.7 1477.1 834.3 1469.3 839.0 1462.5C842.7 1457.2 846.3 1451.8 850.0 1448.8C854.6 1445.0 859.2 1440.9 863.8 1442.0C867.5 1442.9 871.2 1450.4 875.0 1455.0C878.9 1459.9 882.8 1469.6 886.8 1470.5C890.3 1471.3 893.9 1463.5 897.5 1460.0C901.8 1455.8 906.2 1451.6 910.5 1447.5C914.5 1443.7 918.5 1439.4 922.5 1436.2C926.7 1433.0 930.8 1428.9 935.0 1428.2C938.3 1427.7 941.7 1430.9 945.0 1432.5C947.9 1433.9 950.8 1438.2 953.8 1437.0C956.7 1435.8 959.6 1429.4 962.5 1425.0C965.0 1421.2 967.5 1416.2 970.0 1412.5C972.1 1409.4 974.2 1406.5 976.2 1404.5C977.5 1403.3 978.8 1401.4 980.0 1403.0C982.1 1405.7 984.2 1411.8 986.2 1417.5C988.3 1423.2 990.4 1430.7 992.5 1437.5C995.0 1445.7 997.5 1456.0 1000.0 1462.5C1002.1 1467.9 1004.2 1473.0 1006.2 1473.0C1008.3 1473.0 1010.4 1467.1 1012.5 1462.5C1015.0 1457.0 1017.5 1446.7 1020.0 1442.5C1022.5 1438.3 1025.0 1436.6 1027.5 1437.5C1029.6 1438.3 1031.7 1443.3 1033.8 1447.5C1035.8 1451.7 1037.9 1457.6 1040.0 1462.5C1042.5 1468.4 1045.0 1475.3 1047.5 1480.0C1049.4 1483.6 1051.3 1487.9 1053.2 1487.5C1055.5 1487.0 1057.8 1481.5 1060.0 1477.5C1065.7 1467.4 1071.3 1455.6 1077.0 1445.0C1081.3 1436.9 1085.7 1428.4 1090.0 1421.2C1093.7 1415.2 1097.3 1409.0 1101.0 1405.5C1104.4 1402.3 1107.8 1401.1 1111.2 1401.2C1113.8 1401.4 1116.2 1403.7 1118.8 1406.2C1120.8 1408.3 1122.8 1410.8 1124.8 1415.0C1127.3 1420.4 1129.9 1427.9 1132.5 1435.0C1134.2 1439.6 1135.8 1446.0 1137.5 1450.0C1140.0 1456.0 1142.5 1461.4 1145.0 1465.0C1147.1 1468.0 1149.2 1470.3 1151.2 1470.0C1154.2 1469.5 1157.1 1464.8 1160.0 1462.5C1164.1 1459.3 1168.2 1454.4 1172.2 1453.8C1175.7 1453.2 1179.1 1457.1 1182.5 1458.8C1187.0 1460.9 1191.5 1464.8 1196.0 1465.0C1199.8 1465.2 1203.7 1461.9 1207.5 1460.0C1211.7 1457.9 1215.8 1454.0 1220.0 1453.0C1224.2 1452.0 1228.3 1453.6 1232.5 1453.8C1236.2 1453.9 1240.0 1455.2 1243.8 1453.8C1247.5 1452.3 1251.2 1447.8 1255.0 1445.0C1259.2 1441.9 1263.3 1436.7 1267.5 1436.2C1271.7 1435.8 1275.8 1440.1 1280.0 1442.5C1283.8 1444.7 1287.5 1447.7 1291.2 1450.0C1295.0 1452.3 1298.8 1454.5 1302.5 1456.2C1305.0 1457.4 1307.5 1459.4 1310.0 1458.8C1312.1 1458.2 1314.2 1455.2 1316.2 1452.5C1318.3 1449.8 1320.4 1446.7 1322.5 1442.5C1325.0 1437.5 1327.5 1430.7 1330.0 1425.0C1333.0 1418.2 1336.0 1410.8 1339.0 1405.0C1342.7 1397.9 1346.3 1391.3 1350.0 1386.2C1354.2 1380.4 1358.5 1374.6 1362.8 1372.5C1366.0 1370.9 1369.2 1374.1 1372.5 1375.0C1375.0 1375.7 1377.5 1378.3 1380.0 1377.5C1382.5 1376.7 1385.0 1372.9 1387.5 1370.0C1390.0 1367.1 1392.5 1363.8 1395.0 1360.0C1400.1 1352.2 1405.2 1342.1 1410.2 1335.0C1413.5 1330.5 1416.8 1327.9 1420.0 1325.0C1423.3 1322.0 1426.7 1320.4 1430.0 1317.5C1438.3 1310.4 1446.7 1304.7 1455.0 1295.0C1461.7 1287.2 1468.3 1276.3 1475.0 1265.0C1479.2 1257.9 1483.3 1248.9 1487.5 1240.0C1490.0 1234.7 1492.5 1226.5 1495.0 1222.5C1497.9 1217.8 1500.8 1213.8 1503.8 1213.8C1505.8 1213.8 1507.9 1219.0 1510.0 1222.5C1511.7 1225.3 1513.3 1229.5 1515.0 1232.5C1517.5 1237.0 1520.0 1241.6 1522.5 1245.0C1524.6 1247.8 1526.7 1251.6 1528.8 1251.2C1531.2 1250.8 1533.8 1246.4 1536.2 1242.5C1538.3 1239.3 1540.4 1235.3 1542.5 1230.0C1546.7 1219.4 1550.8 1208.4 1555.0 1195.0C1558.3 1184.3 1561.7 1168.5 1565.0 1157.5C1567.5 1149.3 1570.0 1141.8 1572.5 1137.5C1574.6 1133.9 1576.7 1132.9 1578.8 1133.8C1580.8 1134.6 1582.9 1139.5 1585.0 1142.5C1586.7 1144.9 1588.3 1148.0 1590.0 1150.0C1592.9 1153.4 1595.8 1158.8 1598.8 1158.8C1600.8 1158.8 1602.9 1153.6 1605.0 1150.0C1607.5 1145.7 1610.0 1139.2 1612.5 1135.0C1615.0 1130.8 1617.5 1127.6 1620.0 1125.0C1621.7 1123.3 1623.3 1121.8 1625.0 1122.0C1626.7 1122.2 1628.3 1124.5 1630.0 1126.2C1631.7 1128.0 1633.3 1131.1 1635.0 1132.5C1637.9 1135.0 1640.8 1139.0 1643.8 1138.0C1645.8 1137.3 1647.9 1131.8 1650.0 1127.5C1651.7 1124.1 1653.3 1120.4 1655.0 1115.0C1656.7 1109.6 1658.3 1101.7 1660.0 1095.0C1661.7 1088.3 1663.3 1080.4 1665.0 1075.0C1666.7 1069.6 1668.3 1065.4 1670.0 1062.5C1671.2 1060.4 1672.5 1059.6 1673.8 1060.0C1675.4 1060.5 1677.1 1063.1 1678.8 1065.0C1680.8 1067.3 1682.9 1070.7 1685.0 1072.5C1688.8 1075.7 1692.5 1079.8 1696.2 1080.0C1700.0 1080.2 1703.8 1076.0 1707.5 1073.8C1710.8 1071.7 1714.2 1068.7 1717.5 1067.0C1720.0 1065.8 1722.5 1065.4 1725.0 1065.0C1729.2 1064.3 1733.3 1065.6 1737.5 1063.8C1740.0 1062.7 1742.5 1059.5 1745.0 1056.2C1746.7 1054.1 1748.3 1051.0 1750.0 1047.5C1751.7 1044.0 1753.3 1039.2 1755.0 1035.0C1756.7 1030.8 1758.3 1025.5 1760.0 1022.5C1761.7 1019.5 1763.3 1017.2 1765.0 1017.0C1766.2 1016.8 1767.5 1019.1 1768.8 1021.2C1770.0 1023.4 1771.2 1026.4 1772.5 1030.0C1774.2 1034.8 1775.8 1040.8 1777.5 1046.2C1779.2 1051.7 1780.8 1057.9 1782.5 1062.5C1784.2 1067.1 1785.8 1070.8 1787.5 1073.8C1789.2 1076.7 1790.8 1078.9 1792.5 1080.0C1795.4 1081.9 1798.3 1081.7 1801.2 1082.5C1804.2 1083.3 1807.1 1083.4 1810.0 1085.0C1812.5 1086.3 1815.0 1088.8 1817.5 1091.2C1820.0 1093.8 1822.5 1097.1 1825.0 1100.0C1827.5 1102.9 1830.0 1106.5 1832.5 1108.8C1835.0 1111.0 1837.5 1113.6 1840.0 1113.8C1842.9 1114.0 1845.8 1111.9 1848.8 1110.0C1851.7 1108.1 1854.6 1105.4 1857.5 1102.5C1860.4 1099.6 1863.3 1095.8 1866.2 1092.5C1869.2 1089.2 1872.1 1086.1 1875.0 1082.5C1879.2 1077.4 1883.3 1071.2 1887.5 1066.2C1892.5 1060.3 1897.5 1056.5 1902.5 1050.0C1904.6 1047.3 1906.7 1042.9 1908.8 1038.8C1910.8 1034.6 1912.9 1030.2 1915.0 1025.0C1917.1 1019.8 1919.2 1012.9 1921.2 1007.5C1923.3 1002.1 1925.4 996.7 1927.5 992.5C1929.6 988.3 1931.7 985.0 1933.8 982.5C1935.8 980.0 1937.9 978.7 1940.0 977.5C1942.5 976.0 1945.0 975.8 1947.5 974.5C1950.0 973.2 1952.5 972.6 1955.0 970.0C1956.7 968.2 1958.3 965.7 1960.0 961.2C1960.8 959.0 1961.7 952.4 1962.5 950.0C1965.8 940.3 1969.2 931.7 1972.5 925.0C1975.8 918.3 1979.2 913.9 1982.5 910.0C1985.4 906.6 1988.3 904.9 1991.2 903.0C1994.6 900.8 1998.0 898.7 2001.4 897.7C2003.3 897.2 2005.2 897.4 2007.1 898.6C2009.5 900.1 2011.9 903.5 2014.3 905.7C2018.3 909.5 2022.3 916.6 2026.3 916.6C2029.0 916.6 2031.6 910.7 2034.3 905.7C2038.1 898.5 2041.9 886.4 2045.7 880.0C2049.5 873.6 2053.3 869.9 2057.1 867.1C2061.0 864.4 2064.8 865.9 2068.6 863.4C2071.4 861.6 2074.3 859.6 2077.1 854.3C2080.0 849.0 2082.9 839.2 2085.7 831.4C2089.5 821.1 2093.3 808.6 2097.1 800.0C2101.0 791.4 2104.8 785.9 2108.6 780.0C2113.3 772.6 2118.1 769.0 2122.9 760.0C2126.7 752.8 2130.5 741.4 2134.3 731.4C2138.1 721.4 2141.9 709.0 2145.7 700.0C2149.5 691.0 2153.3 684.1 2157.1 677.1C2161.9 668.4 2166.7 661.0 2171.4 652.9"/>
</g>
<g fill="#000" clip-path="url(#plot)"><circle cx="198.8" cy="1546.0" r="5.1"/><circle cx="213.0" cy="1530.0" r="5.1"/><circle cx="225.8" cy="1513.2" r="5.1"/><circle cx="237.5" cy="1497.0" r="5.1"/><circle cx="253.8" cy="1489.5" r="5.1"/><circle cx="273.0" cy="1485.0" r="5.1"/><circle cx="290.5" cy="1476.2" r="5.1"/><circle cx="304.5" cy="1491.2" r="5.1"/><circle cx="319.5" cy="1498.0" r="5.1"/><circle cx="338.0" cy="1488.0" r="5.1"/><circle cx="359.0" cy="1489.5" r="5.1"/><circle cx="377.0" cy="1480.0" r="5.1"/><circle cx="395.8" cy="1473.2" r="5.1"/><circle cx="415.8" cy="1468.0" r="5.1"/><circle cx="435.0" cy="1462.0" r="5.1"/><circle cx="449.2" cy="1476.2" r="5.1"/><circle cx="465.2" cy="1478.0" r="5.1"/><circle cx="483.0" cy="1468.8" r="5.1"/><circle cx="501.2" cy="1458.2" r="5.1"/><circle cx="521.2" cy="1461.2" r="5.1"/><circle cx="537.8" cy="1455.5" r="5.1"/><circle cx="550.2" cy="1439.2" r="5.1"/><circle cx="567.8" cy="1444.5" r="5.1"/><circle cx="583.8" cy="1457.0" r="5.1"/><circle cx="598.2" cy="1471.2" r="5.1"/><circle cx="618.0" cy="1477.5" r="5.1"/><circle cx="637.0" cy="1485.0" r="5.1"/><circle cx="656.5" cy="1486.5" r="5.1"/><circle cx="676.2" cy="1481.2" r="5.1"/><circle cx="695.5" cy="1474.2" r="5.1"/><circle cx="715.8" cy="1474.2" r="5.1"/><circle cx="733.0" cy="1463.2" r="5.1"/><circle cx="750.8" cy="1455.0" r="5.1"/><circle cx="771.2" cy="1455.5" r="5.1"/><circle cx="791.0" cy="1460.8" r="5.1"/><circle cx="811.2" cy="1465.0" r="5.1"/><circle cx="822.0" cy="1448.8" r="5.1"/><circle cx="831.2" cy="1430.5" r="5.1"/><circle cx="841.2" cy="1413.0" r="5.1"/><circle cx="854.5" cy="1397.5" r="5.1"/><circle cx="868.8" cy="1386.2" r="5.1"/><circle cx="886.2" cy="1392.0" r="5.1"/><circle cx="897.5" cy="1375.0" r="5.1"/><circle cx="908.0" cy="1357.0" r="5.1"/><circle cx="924.5" cy="1345.0" r="5.1"/><circle cx="942.5" cy="1335.5" r="5.1"/><circle cx="960.8" cy="1325.5" r="5.1"/><circle cx="978.8" cy="1315.5" r="5.1"/><circle cx="991.8" cy="1330.0" r="5.1"/><circle cx="1004.5" cy="1345.8" r="5.1"/><circle cx="1022.0" cy="1335.0" r="5.1"/><circle cx="1039.5" cy="1335.5" r="5.1"/><circle cx="1059.2" cy="1342.5" r="5.1"/><circle cx="1079.5" cy="1346.2" r="5.1"/><circle cx="1100.5" cy="1344.5" r="5.1"/><circle cx="1120.8" cy="1343.0" r="5.1"/><circle cx="1138.0" cy="1353.8" r="5.1"/><circle cx="1155.5" cy="1354.5" r="5.1"/><circle cx="1172.5" cy="1342.5" r="5.1"/><circle cx="1188.0" cy="1328.8" r="5.1"/><circle cx="1204.5" cy="1316.2" r="5.1"/><circle cx="1223.8" cy="1312.0" r="5.1"/><circle cx="1243.8" cy="1306.8" r="5.1"/><circle cx="1260.5" cy="1294.2" r="5.1"/><circle cx="1278.8" cy="1295.0" r="5.1"/><circle cx="1298.8" cy="1300.0" r="5.1"/><circle cx="1317.5" cy="1300.0" r="5.1"/><circle cx="1333.8" cy="1286.2" r="5.1"/><circle cx="1348.0" cy="1270.5" r="5.1"/><circle cx="1361.2" cy="1255.0" r="5.1"/><circle cx="1382.0" cy="1257.5" r="5.1"/><circle cx="1396.2" cy="1244.5" r="5.1"/><circle cx="1410.0" cy="1229.5" r="5.1"/><circle cx="1428.8" cy="1220.0" r="5.1"/><circle cx="1445.8" cy="1207.5" r="5.1"/><circle cx="1462.0" cy="1195.0" r="5.1"/><circle cx="1479.0" cy="1184.0" r="5.1"/><circle cx="1499.0" cy="1186.0" r="5.1"/><circle cx="1518.0" cy="1193.8" r="5.1"/><circle cx="1534.5" cy="1192.0" r="5.1"/><circle cx="1548.8" cy="1177.5" r="5.1"/><circle cx="1558.8" cy="1160.0" r="5.1"/><circle cx="1567.0" cy="1141.2" r="5.1"/><circle cx="1576.2" cy="1122.0" r="5.1"/><circle cx="1593.0" cy="1111.2" r="5.1"/><circle cx="1603.0" cy="1094.2" r="5.1"/><circle cx="1609.5" cy="1074.2" r="5.1"/><circle cx="1615.2" cy="1054.5" r="5.1"/><circle cx="1621.2" cy="1035.5" r="5.1"/><circle cx="1631.2" cy="1017.5" r="5.1"/><circle cx="1643.2" cy="1000.8" r="5.1"/><circle cx="1653.2" cy="982.5" r="5.1"/><circle cx="1663.2" cy="964.2" r="5.1"/><circle cx="1673.2" cy="947.0" r="5.1"/><circle cx="1690.0" cy="935.0" r="5.1"/><circle cx="1708.0" cy="940.0" r="5.1"/><circle cx="1722.5" cy="937.5" r="5.1"/><circle cx="1733.5" cy="920.0" r="5.1"/><circle cx="1745.0" cy="903.0" r="5.1"/><circle cx="1760.8" cy="890.0" r="5.1"/><circle cx="1773.8" cy="897.0" r="5.1"/><circle cx="1785.2" cy="913.8" r="5.1"/><circle cx="1798.8" cy="929.2" r="5.1"/><circle cx="1813.8" cy="942.5" r="5.1"/><circle cx="1834.0" cy="940.5" r="5.1"/><circle cx="1854.2" cy="936.8" r="5.1"/><circle cx="1871.0" cy="926.2" r="5.1"/><circle cx="1885.5" cy="912.0" r="5.1"/><circle cx="1892.0" cy="892.5" r="5.1"/><circle cx="1898.5" cy="872.5" r="5.1"/><circle cx="1905.0" cy="853.0" r="5.1"/><circle cx="1915.0" cy="836.0" r="5.1"/><circle cx="1931.0" cy="823.0" r="5.1"/><circle cx="1939.8" cy="804.5" r="5.1"/><circle cx="1947.8" cy="785.8" r="5.1"/><circle cx="1955.8" cy="766.8" r="5.1"/><circle cx="1964.0" cy="747.5" r="5.1"/><circle cx="1972.5" cy="729.2" r="5.1"/><circle cx="1980.5" cy="710.0" r="5.1"/><circle cx="1986.5" cy="690.0" r="5.1"/><circle cx="1992.2" cy="670.0" r="5.1"/><circle cx="1998.0" cy="650.5" r="5.1"/><circle cx="2004.0" cy="631.0" r="5.1"/><circle cx="2011.0" cy="611.8" r="5.1"/><circle cx="2018.2" cy="592.0" r="5.1"/><circle cx="2025.0" cy="572.2" r="5.1"/><circle cx="2032.0" cy="553.0" r="5.1"/><circle cx="2039.2" cy="533.8" r="5.1"/><circle cx="2046.2" cy="514.5" r="5.1"/><circle cx="2052.8" cy="494.8" r="5.1"/><circle cx="2058.0" cy="474.8" r="5.1"/><circle cx="2063.0" cy="455.0" r="5.1"/><circle cx="2068.2" cy="435.2" r="5.1"/><circle cx="2073.5" cy="415.0" r="5.1"/></g>
<rect x="2306" y="1492.5" width="1100" height="158.5" fill="#fff"/>
<g><defs><linearGradient id="lgBT" gradientUnits="userSpaceOnUse" x1="2357.5" y1="1525.0" x2="2385.0" y2="1567.5"><stop offset="0" stop-color="#b4b4b4"/><stop offset="0.25" stop-color="#8c8c8c"/><stop offset="0.6" stop-color="#5e5e5e"/><stop offset="1" stop-color="#474747"/></linearGradient><linearGradient id="lgBE" gradientUnits="userSpaceOnUse" x1="2331.2" y1="1561.2" x2="2327.5" y2="1600.0"><stop offset="0" stop-color="#505050"/><stop offset="0.5" stop-color="#858585"/><stop offset="1" stop-color="#c2c2c2"/></linearGradient><linearGradient id="lgBS" gradientUnits="userSpaceOnUse" x1="2422.5" y1="1522.5" x2="2441.9" y2="1541.2"><stop offset="0" stop-color="#3e3e3e"/><stop offset="0.5" stop-color="#8a8a8a"/><stop offset="1" stop-color="#d6d6d6"/></linearGradient><linearGradient id="lgFT" gradientUnits="userSpaceOnUse" x1="2417.5" y1="1536.2" x2="2351.2" y2="1598.8"><stop offset="0" stop-color="#a2a2a2"/><stop offset="0.3" stop-color="#8a8a8a"/><stop offset="0.55" stop-color="#9c9c9c"/><stop offset="0.8" stop-color="#b6b6b6"/><stop offset="1" stop-color="#c9c9c9"/></linearGradient><linearGradient id="lgFS" gradientUnits="userSpaceOnUse" x1="2400.0" y1="1575.0" x2="2421.2" y2="1613.8"><stop offset="0" stop-color="#3a3a3a"/><stop offset="0.4" stop-color="#6e6e6e"/><stop offset="0.75" stop-color="#9a9a9a"/><stop offset="1" stop-color="#cfcfcf"/></linearGradient><linearGradient id="lgFE" gradientUnits="userSpaceOnUse" x1="2351.2" y1="1598.8" x2="2347.5" y2="1635.0"><stop offset="0" stop-color="#5a5a5a"/><stop offset="0.45" stop-color="#8a8a8a"/><stop offset="1" stop-color="#c4c4c4"/></linearGradient></defs><polygon points="2321.2,1558.5 2347.5,1572.5 2343.8,1603.1 2327.5,1600.0 2315.0,1591.6" fill="url(#lgBE)" stroke="url(#lgBE)" stroke-width="1.5" stroke-linejoin="round"/><polygon points="2412.5,1531.9 2432.5,1513.1 2446.2,1536.2 2440.0,1547.5 2433.8,1544.4" fill="url(#lgBS)" stroke="url(#lgBS)" stroke-width="1.5" stroke-linejoin="round"/><polygon points="2322.8,1556.8 2389.4,1494.8 2394.4,1493.5 2432.5,1512.8 2413.1,1531.9 2402.5,1555.0 2348.8,1576.2 2345.0,1572.8" fill="url(#lgBT)" stroke="url(#lgBT)" stroke-width="2" stroke-linejoin="round"/><polyline points="2413.8,1530.6 2432.2,1513.8" fill="none" stroke="#ededed" stroke-width="2.4" stroke-linecap="round"/><polyline points="2322.2,1558.5 2345.0,1572.2" fill="none" stroke="#cfcfcf" stroke-width="2.6" stroke-linecap="round"/><polyline points="2324.4,1555.0 2390.0,1494.4" fill="none" stroke="#e6e6e6" stroke-width="1.6" stroke-linecap="round" opacity="0.8"/><polygon points="2329.8,1590.6 2371.2,1609.8 2373.5,1648.8 2370.0,1649.0 2325.6,1620.6 2324.0,1617.5" fill="url(#lgFE)" stroke="url(#lgFE)" stroke-width="1.5" stroke-linejoin="round"/><polygon points="2371.2,1609.8 2437.2,1546.9 2449.4,1566.2 2448.8,1570.2 2375.0,1648.1 2373.5,1648.8" fill="url(#lgFS)" stroke="url(#lgFS)" stroke-width="1.5" stroke-linejoin="round"/><polygon points="2331.9,1588.1 2395.6,1527.8 2399.0,1526.8 2436.9,1546.0 2371.2,1609.5 2331.5,1591.0" fill="url(#lgFT)" stroke="url(#lgFT)" stroke-width="2" stroke-linejoin="round"/><polyline points="2372.5,1608.8 2436.5,1547.2" fill="none" stroke="#f2f2f2" stroke-width="2.6" stroke-linecap="round"/><polyline points="2331.5,1590.2 2370.6,1608.8" fill="none" stroke="#dcdcdc" stroke-width="3" stroke-linecap="round"/><polyline points="2371.6,1610.6 2373.2,1647.5" fill="none" stroke="#c9c9c9" stroke-width="2.4" stroke-linecap="round"/></g>
<text class="lg" fill="#2b2b2b" stroke="#2b2b2b" stroke-width="1.4"><tspan x="2472.59" y="1601.8" font-size="92.5" textLength="56.84" lengthAdjust="spacingAndGlyphs">T</tspan><tspan x="2535.04" y="1601.8" font-size="78.5" textLength="66.42" lengthAdjust="spacingAndGlyphs">H</tspan><tspan x="2608.56" y="1601.8" font-size="78.5" textLength="42.31" lengthAdjust="spacingAndGlyphs">E</tspan><tspan x="2657.54" y="1601.8" font-size="92.5" textLength="71.90" lengthAdjust="spacingAndGlyphs">D</tspan><tspan x="2728.51" y="1601.8" font-size="78.5" textLength="60.51" lengthAdjust="spacingAndGlyphs">A</tspan><tspan x="2789.08" y="1601.8" font-size="78.5" textLength="28.40" lengthAdjust="spacingAndGlyphs">I</tspan><tspan x="2824.49" y="1601.8" font-size="78.5" textLength="44.46" lengthAdjust="spacingAndGlyphs">L</tspan><tspan x="2861.00" y="1601.8" font-size="78.5" textLength="55.89" lengthAdjust="spacingAndGlyphs">Y</tspan><tspan x="2915.05" y="1601.8" font-size="92.5" textLength="70.42" lengthAdjust="spacingAndGlyphs">G</tspan><tspan x="2990.02" y="1601.8" font-size="78.5" textLength="65.45" lengthAdjust="spacingAndGlyphs">O</tspan><tspan x="3060.00" y="1601.8" font-size="78.5" textLength="44.43" lengthAdjust="spacingAndGlyphs">L</tspan><tspan x="3106.54" y="1601.8" font-size="78.5" textLength="63.86" lengthAdjust="spacingAndGlyphs">D</tspan><tspan x="3172.76" y="1601.8" font-size="78.5" textLength="19.90" lengthAdjust="spacingAndGlyphs">.</tspan><tspan x="3194.95" y="1601.8" font-size="78.5" textLength="58.12" lengthAdjust="spacingAndGlyphs">C</tspan><tspan x="3254.50" y="1601.8" font-size="78.5" textLength="66.99" lengthAdjust="spacingAndGlyphs">O</tspan><tspan x="3322.55" y="1601.8" font-size="78.5" textLength="78.88" lengthAdjust="spacingAndGlyphs">M</tspan></text>
<line x1="842.3" y1="1965" x2="957.3" y2="1965" stroke="#000000" stroke-width="10" stroke-linecap="round"/>
<text class="t" x="970.8" y="1978.3" font-size="50.5" fill="#595959" textLength="108" lengthAdjust="spacingAndGlyphs">2024</text>
<line x1="1143.4" y1="1965" x2="1258.4" y2="1965" stroke="#E97132" stroke-width="10" stroke-linecap="round"/>
<text class="t" x="1271.9" y="1978.3" font-size="50.5" fill="#595959" textLength="108" lengthAdjust="spacingAndGlyphs">1972</text>
<line x1="1445.2" y1="1965" x2="1560.2" y2="1965" stroke="#196B24" stroke-width="10" stroke-linecap="round"/>
<text class="t" x="1573.7" y="1978.3" font-size="50.5" fill="#595959" textLength="108" lengthAdjust="spacingAndGlyphs">1978</text>
<line x1="1746.5" y1="1965" x2="1861.5" y2="1965" stroke="#0F9ED5" stroke-width="10" stroke-linecap="round"/>
<text class="t" x="1875.0" y="1978.3" font-size="50.5" fill="#595959" textLength="108" lengthAdjust="spacingAndGlyphs">2007</text>
<line x1="2048.0" y1="1965" x2="2163.0" y2="1965" stroke="#A02B93" stroke-width="10" stroke-linecap="round"/>
<text class="t" x="2176.5" y="1978.3" font-size="50.5" fill="#595959" textLength="108" lengthAdjust="spacingAndGlyphs">2009</text>
<g fill="#000"><circle cx="2349.5" cy="1965" r="5"/><circle cx="2370.1" cy="1965" r="5"/><circle cx="2390.7" cy="1965" r="5"/><circle cx="2411.3" cy="1965" r="5"/><circle cx="2431.9" cy="1965" r="5"/><circle cx="2452.5" cy="1965" r="5"/></g>
<text class="t" x="2479" y="1978.3" font-size="50.5" fill="#595959" textLength="180" lengthAdjust="spacingAndGlyphs">Average</text>
</svg></body></html>
